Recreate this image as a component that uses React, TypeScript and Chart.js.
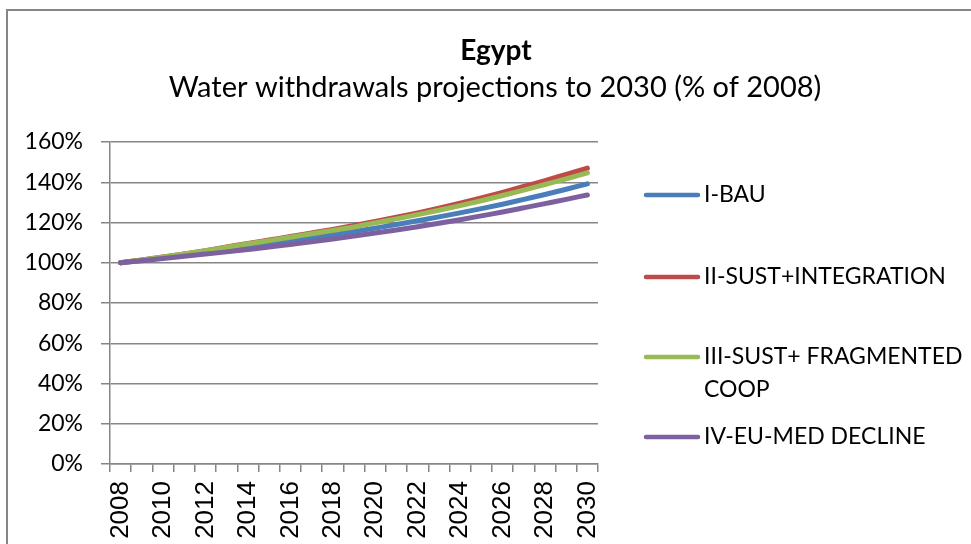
import React, { useEffect, useRef } from "react";
import { Chart, registerables } from "chart.js";

Chart.register(...registerables);

const years = [
  "2008", "2009", "2010", "2011", "2012", "2013", "2014", "2015", "2016", "2017", "2018", "2019",
  "2020", "2021", "2022", "2023", "2024", "2025", "2026", "2027", "2028", "2029", "2030",
];

const bauValues = [
  100.0, 101.2, 102.5, 103.8, 105.2, 106.6, 108.0, 109.4, 110.9, 112.4, 113.9, 115.5,
  117.2, 119.0, 120.9, 122.8, 124.8, 126.9, 129.1, 131.5, 133.9, 136.5, 139.2,
];
const sustIntegrationValues = [
  100.0, 101.4, 102.9, 104.4, 106.0, 107.8, 109.6, 111.3, 113.0, 114.8, 116.6, 118.5,
  120.5, 122.6, 124.8, 127.1, 129.6, 132.2, 135.0, 137.9, 140.8, 143.9, 147.0,
];
const sustFragmentedValues = [
  100.0, 101.4, 102.9, 104.4, 106.0, 107.7, 109.4, 111.0, 112.7, 114.4, 116.1, 117.8,
  119.8, 121.8, 123.9, 126.1, 128.4, 130.8, 133.4, 136.1, 138.9, 141.7, 144.7,
];
const euMedDeclineValues = [
  100.0, 101.0, 102.1, 103.2, 104.3, 105.4, 106.6, 107.8, 109.1, 110.4, 111.8, 113.3,
  114.8, 116.3, 117.9, 119.6, 121.4, 123.3, 125.2, 127.3, 129.4, 131.5, 133.7,
];

const seriesNames = [
  "I-BAU",
  "II-SUST+INTEGRATION",
  "III-SUST+ FRAGMENTED COOP",
  "IV-EU-MED DECLINE",
];
const legendLines = [
  ["I-BAU"],
  ["II-SUST+INTEGRATION"],
  ["III-SUST+ FRAGMENTED", "COOP"],
  ["IV-EU-MED DECLINE"],
];
const seriesColors = ["#4A7EBB", "#BE4B48", "#98B954", "#7D60A0"];

const titleText = "Egypt";
const subtitleText = "Water withdrawals projections to 2030 (% of 2008)";

const yMin = 0;
const yMax = 160;
const yStep = 20;

const CALIBRI = "Lato, 'Open Sans', sans-serif";
const GRID = "#868686";

const decorPlugin = {
  id: "decor",
  beforeDraw(chart: any) {
    const ctx = chart.ctx;
    ctx.save();
    ctx.fillStyle = "#ffffff";
    ctx.fillRect(0, 0, chart.width, chart.height);
    ctx.strokeStyle = GRID;
    ctx.lineWidth = 2;
    ctx.beginPath();
    ctx.moveTo(7, chart.height + 5);
    ctx.lineTo(7, 10);
    ctx.lineTo(chart.width + 5, 10);
    ctx.stroke();
    ctx.restore();
  },
  afterDraw(chart: any) {
    const ctx = chart.ctx;
    ctx.save();
    ctx.fillStyle = "#000000";
    ctx.textAlign = "center";
    ctx.textBaseline = "alphabetic";
    ctx.font = `bold 28px ${CALIBRI}`;
    ctx.fillText(titleText, 496, 60);
    ctx.font = `29px ${CALIBRI}`;
    ctx.fillText(subtitleText, 495, 97);

    // legend
    const rowY = [195, 277, 357, 437];
    ctx.textAlign = "left";
    ctx.textBaseline = "middle";
    ctx.font = `23px ${CALIBRI}`;
    legendLines.forEach((lines, i) => {
      const y = rowY[i];
      ctx.strokeStyle = seriesColors[i];
      ctx.lineWidth = 4.5;
      ctx.lineCap = "round";
      ctx.beginPath();
      ctx.moveTo(646, y);
      ctx.lineTo(698, y);
      ctx.stroke();
      ctx.fillStyle = "#000000";
      lines.forEach((t, j) => {
        ctx.fillText(t, 704, y + j * 33);
      });
    });
    ctx.restore();
  },
};

export default function App() {
  const canvasRef = useRef<HTMLCanvasElement | null>(null);

  useEffect(() => {
    document.body.style.margin = "0";
    const canvas = canvasRef.current;
    if (!canvas) return;
    const valueSets = [bauValues, sustIntegrationValues, sustFragmentedValues, euMedDeclineValues];
    const chart = new Chart(canvas, {
      type: "line",
      data: {
        labels: years,
        datasets: seriesNames.map((name, i) => ({
          label: name,
          data: valueSets[i],
          borderColor: seriesColors[i],
          backgroundColor: seriesColors[i],
          borderWidth: 5,
          borderCapStyle: "round",
          borderJoinStyle: "round",
          pointRadius: 0,
          pointHoverRadius: 0,
          cubicInterpolationMode: "monotone",
          fill: false,
          order: seriesNames.length - i,
        })),
      },
      options: {
        responsive: false,
        animation: false,
        events: [],
        layout: { padding: { left: 0, top: 142, right: 373, bottom: 0 } },
        plugins: {
          legend: { display: false },
          title: { display: false },
          tooltip: { enabled: false },
        },
        scales: {
          x: {
            type: "category",
            offset: true,
            grid: {
              offset: true,
              drawOnChartArea: false,
              drawTicks: true,
              tickLength: 8,
              color: GRID,
              lineWidth: 1.5,
            },
            border: { display: true, color: GRID, width: 1.5 },
            ticks: {
              autoSkip: false,
              maxRotation: 90,
              minRotation: 90,
              padding: 9,
              color: "#000000",
              font: { family: "'Liberation Sans', Arial, sans-serif", size: 26 },
              callback: (_v: any, idx: number) => (idx % 2 === 0 ? years[idx] : ""),
            },
            afterFit: (scale: any) => {
              scale.height = 80;
            },
          },
          y: {
            min: yMin,
            max: yMax,
            grid: {
              color: GRID,
              lineWidth: 1.5,
              tickLength: 9,
              drawTicks: true,
            },
            border: { display: true, color: GRID, width: 1.5 },
            ticks: {
              stepSize: yStep,
              padding: 18,
              color: "#000000",
              font: { family: CALIBRI, size: 23 },
              callback: (v: any) => `${v}%`,
            },
            afterFit: (scale: any) => {
              scale.width = 110;
            },
          },
        },
      },
      plugins: [decorPlugin],
    } as any);
    return () => chart.destroy();
  }, []);

  return (
    <div style={{ width: 971, height: 544, position: "relative" }}>
      <canvas ref={canvasRef} width={971} height={544} style={{ display: "block" }} />
    </div>
  );
}
